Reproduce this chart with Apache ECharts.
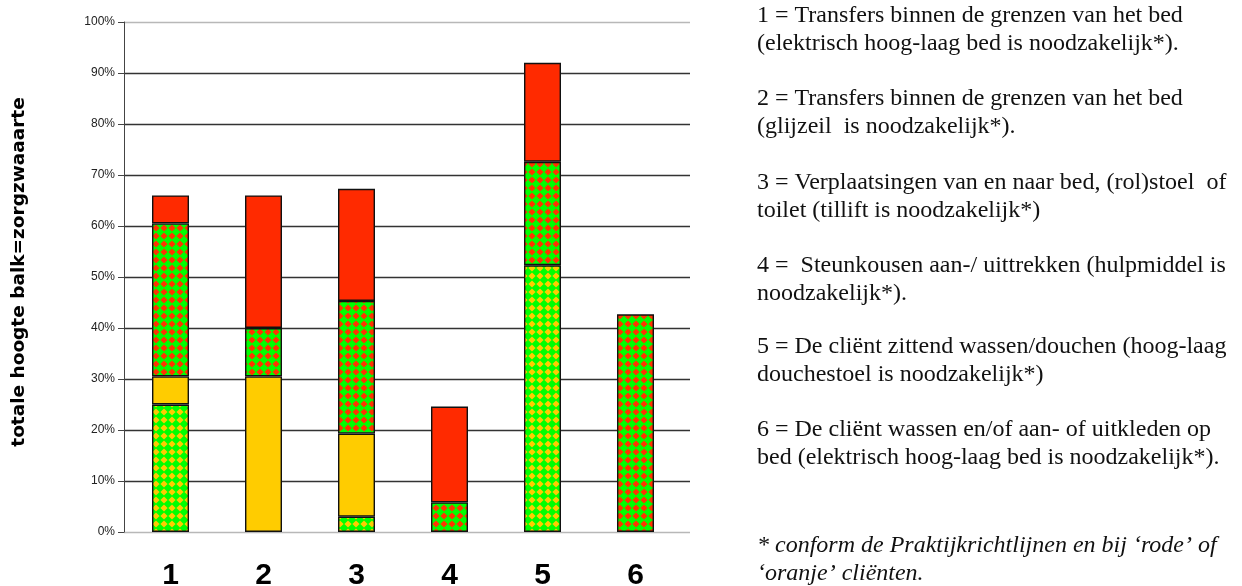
<!DOCTYPE html>
<html>
<head>
<meta charset="utf-8">
<script src="https://cdn.jsdelivr.net/npm/echarts@6/dist/echarts.min.js"></script>
<style>
html,body{margin:0;padding:0;background:#fff;}
#c{width:1242px;height:586px;}
</style>
</head>
<body>
<div id="c"></div>
<script>
// ---- data ----
var categories = ['1', '2', '3', '4', '5', '6'];
var greenYellow = [25, null, 3, null, 52.3, null];
var yellow = [5.5, 30.5, 16.3, null, null, null];
var greenRed = [30, 9.5, 26, 5.8, 20.3, 42.7];
var red = [5.5, 26, 22, 18.8, 19.4, null];
var yTicks = [0, 10, 20, 30, 40, 50, 60, 70, 80, 90, 100];
var yTitle = 'totale hoogte balk=zorgzwaaarte';
var legendParas = [
  '1 = Transfers binnen de grenzen van het bed\n(elektrisch hoog-laag bed is noodzakelijk*).',
  '2 = Transfers binnen de grenzen van het bed\n(glijzeil  is noodzakelijk*).',
  '3 = Verplaatsingen van en naar bed, (rol)stoel  of\ntoilet (tillift is noodzakelijk*)',
  '4 =  Steunkousen aan-/ uittrekken (hulpmiddel is\nnoodzakelijk*).',
  '5 = De cliënt zittend wassen/douchen (hoog-laag\ndouchestoel is noodzakelijk*)',
  '6 = De cliënt wassen en/of aan- of uitkleden op\nbed (elektrisch hoog-laag bed is noodzakelijk*).'
];
var footnote = '* conform de Praktijkrichtlijnen en bij \u2018rode\u2019 of\n\u2018oranje\u2019 cli\u00ebnten.';

// ---- patterns ----
function diamondPattern(bg, fg) {
  var cv = document.createElement('canvas');
  cv.width = 8; cv.height = 8;
  var g = cv.getContext('2d');
  g.fillStyle = bg; g.fillRect(0, 0, 8, 8);
  g.fillStyle = fg;
  g.beginPath();
  g.moveTo(4, 0.4); g.lineTo(7.6, 4); g.lineTo(4, 7.6); g.lineTo(0.4, 4);
  g.closePath(); g.fill();
  return {image: cv, repeat: 'repeat'};
}
var patGY = diamondPattern('#00ff00', '#ffcc00');
var patGR = diamondPattern('#00ff00', '#ff3300');

var splitColors = yTicks.map(function (v, i) {
  return (i === 0 || i === yTicks.length - 1) ? '#b8b8b8' : '#333333';
});

var chart = echarts.init(document.getElementById('c'), null, {renderer: 'canvas'});

function barSeries(name, data, color) {
  return {
    name: name, type: 'bar', stack: 'total', data: data,
    xAxisIndex: 1, yAxisIndex: 1, barWidth: 37,
    itemStyle: {color: color, borderColor: '#111', borderWidth: 1.4},
    emphasis: {disabled: true}
  };
}

var paraBaselines = [24, 107, 191, 274, 355, 438];
var graphics = [];
legendParas.forEach(function (t, i) {
  graphics.push({
    type: 'text', left: 757, top: paraBaselines[i] - 22,
    style: {text: t, font: '24px "Liberation Serif"', lineHeight: 28, fill: '#111'}
  });
});
graphics.push({
  type: 'text', left: 757, top: 554 - 22,
  style: {text: footnote, font: 'italic 24px "Liberation Serif"', lineHeight: 28, fill: '#111'}
});
graphics.push({
  type: 'text', x: 19, y: 272, rotation: Math.PI / 2,
  style: {text: yTitle, font: 'bold 18.5px "DejaVu Sans"', fill: '#000', align: 'center', verticalAlign: 'middle'}
});

chart.setOption({
  animation: false,
  grid: [
    {left: 124, right: 552, top: 22, bottom: 54, outerBoundsMode: 'none', containLabel: false},
    {left: 124, right: 560, top: 22, bottom: 54, outerBoundsMode: 'none', containLabel: false}
  ],
  xAxis: [
    {gridIndex: 0, type: 'category', data: [''], show: false},
    {gridIndex: 1, type: 'category', data: categories,
     axisLine: {show: false}, axisTick: {show: false},
     axisLabel: {fontSize: 30, fontWeight: 'bold', fontFamily: 'Liberation Sans', color: '#000', margin: 29}}
  ],
  yAxis: [
    {gridIndex: 0, type: 'value', min: 0, max: 100, interval: 10,
     axisLine: {show: true, lineStyle: {color: '#444', width: 1}},
     axisTick: {show: true, inside: false, length: 6, lineStyle: {color: '#444'}},
     axisLabel: {formatter: '{value}%', fontSize: 12, fontFamily: 'Liberation Sans', color: '#222', margin: 9},
     splitLine: {show: true, lineStyle: {color: splitColors, width: 1.3}}},
    {gridIndex: 1, type: 'value', min: 0, max: 100, interval: 10, show: false,
     splitLine: {show: false}}
  ],
  series: [
    barSeries('greenYellow', greenYellow, patGY),
    barSeries('yellow', yellow, '#ffcc00'),
    barSeries('greenRed', greenRed, patGR),
    barSeries('red', red, '#ff2a00')
  ],
  graphic: graphics
});
</script>
</body>
</html>
